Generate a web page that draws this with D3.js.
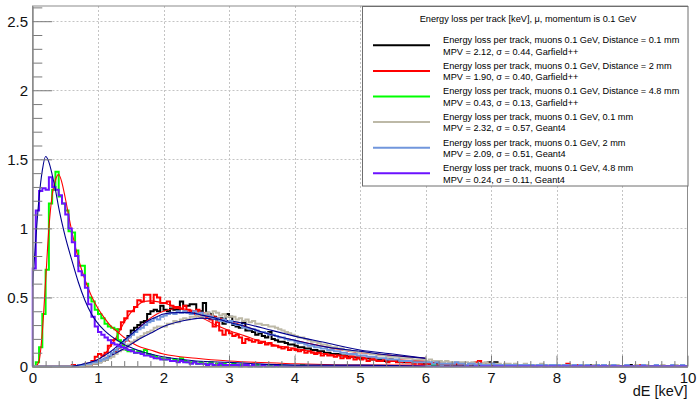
<!DOCTYPE html>
<html>
<head>
<meta charset="utf-8">
<script src="https://cdn.jsdelivr.net/npm/d3@7"></script>
<style>
  body { margin: 0; background: #fff; }
  svg { display: block; }
  text { font-family: "Liberation Sans", Arial, Helvetica, sans-serif; }
</style>
</head>
<body>
<svg id="chart" width="699" height="399"></svg>
<script>
// ---- Histogram binning (0 .. 10 keV, 0.05 keV per bin) ----
const binWidth = 0.05;
const xDomain = [0, 10];
const yDomain = [0, 2.61];
const xMajorTicks = [0, 1, 2, 3, 4, 5, 6, 7, 8, 9, 10];
const yMajorTicks = [0, 0.5, 1, 1.5, 2, 2.5];
const yTickLabels = ["0", "0.5", "1", "1.5", "2", "2.5"];
const xTitle = "dE [keV]";

// ---- Garfield++ histograms (one row of 20 bins per keV) ----
const histGarfield01 = [
  0,0,0,0,0, 0,0,0,0,0, 0,0,0,0,0, 0,0.01,0.01,0.02,0.02,
  0.03,0.04,0.05,0.07,0.09, 0.11,0.14,0.17,0.19,0.22, 0.26,0.28,0.30,0.32,0.33, 0.38,0.40,0.41,0.40,0.44,
  0.41,0.40,0.42,0.41,0.41, 0.47,0.44,0.44,0.45,0.45, 0.40,0.40,0.46,0.39,0.38, 0.36,0.34,0.35,0.31,0.38,
  0.36,0.30,0.29,0.28,0.32, 0.26,0.26,0.25,0.23,0.24, 0.22,0.21,0.25,0.20,0.19, 0.18,0.18,0.17,0.16,0.16,
  0.15,0.14,0.14,0.13,0.13, 0.12,0.12,0.11,0.11,0.10, 0.10,0.09,0.09,0.09,0.08, 0.08,0.07,0.07,0.07,0.06,
  0.06,0.06,0.06,0.05,0.05, 0.05,0.05,0.04,0.04,0.05, 0.04,0.04,0.04,0.03,0.03, 0.03,0.03,0.03,0.03,0.02,
  0.03,0.02,0.02,0.02,0.02, 0.02,0.01,0.02,0.02,0.01, 0.02,0.01,0.01,0.02,0.01, 0.01,0.01,0.02,0.01,0.03,
  0.02,0.03,0.01,0.01,0.01, 0.01,0.01,0.01,0.00,0.01, 0.01,0.01,0.01,0.00,0.01, 0.01,0.00,0.01,0.01,0.00,
  0.01,0.00,0.01,0.00,0.01, 0.00,0.00,0.01,0.00,0.00, 0.01,0.00,0.00,0.00,0.01, 0.00,0.00,0.00,0.00,0.00,
  0.00,0.00,0.01,0.00,0.00, 0,0,0,0,0, 0,0,0,0,0, 0,0,0,0,0
];
const histGarfield2 = [
  0,0,0,0,0, 0,0,0,0,0, 0,0,0.01,0.00,0.01, 0.01,0.02,0.02,0.04,0.07,
  0.09,0.08,0.10,0.15,0.19, 0.20,0.27,0.32,0.35,0.40, 0.40,0.43,0.48,0.47,0.52, 0.52,0.46,0.52,0.50,0.46,
  0.46,0.47,0.44,0.43,0.43, 0.42,0.44,0.41,0.40,0.39, 0.41,0.37,0.37,0.36,0.34, 0.29,0.32,0.26,0.23,0.26,
  0.24,0.22,0.23,0.21,0.17, 0.20,0.19,0.18,0.19,0.17, 0.18,0.16,0.17,0.15,0.15, 0.14,0.13,0.14,0.12,0.13,
  0.12,0.11,0.12,0.10,0.11, 0.10,0.09,0.10,0.08,0.09, 0.08,0.08,0.07,0.08,0.06, 0.07,0.06,0.07,0.05,0.06,
  0.05,0.06,0.04,0.05,0.05, 0.04,0.04,0.05,0.03,0.04, 0.04,0.03,0.03,0.04,0.03, 0.03,0.02,0.03,0.02,0.03,
  0.02,0.02,0.03,0.01,0.02, 0.02,0.01,0.02,0.01,0.02, 0.01,0.02,0.01,0.01,0.02, 0.03,0.04,0.01,0.01,0.02,
  0.01,0.01,0.01,0.00,0.01, 0.01,0.01,0.00,0.01,0.01, 0.00,0.01,0.00,0.01,0.00, 0.01,0.00,0.00,0.01,0.00,
  0.00,0.01,0.00,0.02,0.00, 0.00,0.01,0.00,0.00,0.00, 0.00,0.00,0.01,0.00,0.00, 0,0,0,0,0,
  0,0,0,0,0, 0.01,0,0,0,0, 0,0,0,0,0, 0,0,0,0,0
];
const histGarfield48 = [
  0.00,0.03,0.14,0.38,0.70, 1.18,1.28,1.41,1.23,1.18, 1.13,0.98,0.97,0.84,0.73, 0.73,0.60,0.50,0.47,0.41,
  0.38,0.35,0.31,0.29,0.28, 0.27,0.19,0.15,0.12,0.11, 0.12,0.10,0.11,0.10,0.12, 0.09,0.08,0.07,0.06,0.06,
  0.05,0.06,0.04,0.05,0.04, 0.06,0.04,0.03,0.03,0.03, 0.02,0.03,0.02,0.02,0.03, 0.01,0.02,0.01,0.02,0.01,
  0.01,0.02,0.01,0.01,0.01, 0.01,0.00,0.01,0.01,0.00, 0.01,0.00,0.01,0.00,0.00, 0.01,0.00,0.00,0.00,0.00,
  0.00,0.00,0.01,0.00,0.00, 0,0,0,0,0, 0,0,0,0,0, 0,0,0,0,0,
  0,0,0,0,0, 0,0,0,0,0, 0,0,0,0,0, 0,0,0,0,0,
  0,0,0.01,0,0, 0,0,0,0,0, 0,0,0,0,0, 0,0,0,0,0,
  0,0,0,0,0, 0,0,0,0,0, 0,0,0,0,0, 0,0,0,0,0,
  0,0,0,0,0, 0,0,0,0,0, 0,0,0,0,0, 0,0,0,0,0,
  0,0,0,0,0, 0,0,0,0,0, 0,0,0,0,0, 0,0,0,0,0
];

// ---- Geant4 histograms ----
const histGeant01 = [
  0,0,0,0,0, 0,0,0,0,0, 0,0,0,0,0, 0,0.01,0.01,0.02,0.02,
  0.03,0.04,0.05,0.06,0.07, 0.09,0.11,0.12,0.14,0.16, 0.18,0.19,0.21,0.22,0.24, 0.25,0.26,0.28,0.29,0.29,
  0.29,0.31,0.31,0.33,0.32, 0.34,0.35,0.34,0.36,0.36, 0.37,0.36,0.38,0.39,0.36, 0.40,0.39,0.37,0.38,0.36,
  0.36,0.36,0.34,0.35,0.33, 0.34,0.32,0.33,0.31,0.31, 0.30,0.30,0.29,0.29,0.28, 0.27,0.26,0.25,0.24,0.23,
  0.22,0.21,0.21,0.20,0.19, 0.18,0.18,0.17,0.16,0.16, 0.15,0.14,0.14,0.13,0.13, 0.12,0.12,0.11,0.11,0.10,
  0.11,0.10,0.10,0.09,0.09, 0.08,0.08,0.08,0.07,0.07, 0.07,0.07,0.06,0.06,0.06, 0.06,0.05,0.05,0.05,0.05,
  0.04,0.05,0.04,0.04,0.04, 0.03,0.04,0.03,0.03,0.03, 0.03,0.03,0.03,0.02,0.03, 0.02,0.02,0.02,0.03,0.02,
  0.02,0.02,0.02,0.01,0.02, 0.02,0.01,0.02,0.01,0.01, 0.02,0.01,0.01,0.01,0.01, 0.02,0.01,0.01,0.01,0.01,
  0.01,0.01,0.01,0.01,0.01, 0.01,0.00,0.01,0.01,0.01, 0.00,0.01,0.01,0.00,0.01, 0.00,0.01,0.00,0.01,0.00,
  0.00,0.01,0.00,0.00,0.01, 0.00,0.00,0.01,0.00,0.00, 0.00,0.00,0.01,0.00,0.00, 0.00,0.01,0.00,0.00,0.00
];
const histGeant2 = [
  0,0,0,0,0, 0,0,0,0,0, 0,0,0,0,0.01, 0.01,0.02,0.02,0.03,0.03,
  0.04,0.05,0.06,0.08,0.10, 0.12,0.14,0.17,0.19,0.21, 0.23,0.25,0.27,0.28,0.30, 0.32,0.33,0.35,0.34,0.36,
  0.37,0.38,0.39,0.38,0.40, 0.39,0.40,0.39,0.38,0.40, 0.38,0.39,0.37,0.37,0.36, 0.35,0.35,0.33,0.34,0.32,
  0.33,0.31,0.30,0.30,0.28, 0.28,0.27,0.27,0.26,0.25, 0.25,0.24,0.23,0.23,0.22, 0.21,0.21,0.20,0.19,0.19,
  0.18,0.17,0.17,0.16,0.15, 0.15,0.14,0.14,0.13,0.13, 0.12,0.12,0.11,0.11,0.10, 0.10,0.09,0.09,0.09,0.08,
  0.08,0.08,0.07,0.07,0.07, 0.06,0.06,0.06,0.05,0.05, 0.05,0.05,0.04,0.04,0.04, 0.04,0.03,0.03,0.03,0.03,
  0.03,0.03,0.02,0.03,0.02, 0.02,0.02,0.02,0.02,0.03, 0.02,0.02,0.01,0.02,0.02, 0.01,0.02,0.01,0.01,0.01,
  0.02,0.01,0.01,0.01,0.01, 0.01,0.01,0.01,0.01,0.01, 0.01,0.01,0.01,0.00,0.01, 0.01,0.01,0.00,0.01,0.01,
  0.01,0.00,0.01,0.01,0.00, 0.01,0.00,0.01,0.00,0.01, 0.00,0.00,0.01,0.00,0.01, 0.00,0.00,0.01,0.00,0.00,
  0.00,0.01,0.00,0.00,0.00, 0.00,0.01,0.00,0.00,0.00, 0.01,0.00,0.00,0.00,0.00, 0.01,0.00,0.00,0.01,0.00
];
const histGeant48 = [
  0.71,1.13,1.27,1.29,1.28, 1.37,1.30,1.28,1.24,1.18, 1.10,1.00,0.90,0.80,0.69, 0.66,0.57,0.45,0.36,0.29,
  0.25,0.23,0.21,0.19,0.17, 0.16,0.15,0.14,0.13,0.12, 0.11,0.10,0.10,0.09,0.08, 0.08,0.07,0.06,0.06,0.05,
  0.05,0.05,0.04,0.04,0.03, 0.04,0.03,0.03,0.02,0.03, 0.02,0.02,0.02,0.01,0.02, 0.01,0.01,0.02,0.01,0.01,
  0.01,0.01,0.01,0.00,0.01, 0.01,0.00,0.01,0.00,0.00, 0.01,0.00,0.00,0.00,0.01, 0,0,0,0,0,
  0,0,0,0,0, 0,0,0,0,0, 0,0,0,0,0, 0,0,0,0,0,
  0,0,0,0,0, 0,0,0,0,0, 0,0,0,0,0, 0,0,0,0,0,
  0,0,0,0,0, 0,0,0,0,0, 0,0,0,0,0, 0,0,0,0,0,
  0,0,0,0,0, 0,0,0,0,0, 0,0,0,0,0, 0,0,0,0,0,
  0,0,0,0,0, 0,0,0,0,0, 0,0,0,0,0, 0,0,0,0,0,
  0,0,0,0,0, 0,0,0,0,0, 0,0,0,0,0, 0,0,0,0,0
];

// ---- Fitted curves, sampled as [dE, value] ----
const fitGarfield01 = [[0.7,0.00],[0.9,0.01],[1.0,0.03],[1.1,0.05],[1.2,0.08],[1.3,0.12],[1.4,0.17],[1.5,0.22],[1.6,0.27],[1.7,0.31],[1.8,0.35],[1.9,0.38],[2.0,0.40],[2.2,0.42],[2.4,0.41],[2.6,0.39],[2.8,0.36],[3.0,0.33],[3.25,0.29],[3.5,0.25],[4.0,0.19],[4.5,0.14],[5.0,0.10],[5.5,0.08],[6.0,0.06]];
const fitGarfield2 = [[0.6,0.00],[0.8,0.01],[1.0,0.05],[1.1,0.09],[1.2,0.15],[1.3,0.23],[1.4,0.32],[1.5,0.39],[1.6,0.44],[1.7,0.47],[1.8,0.475],[1.9,0.47],[2.0,0.46],[2.2,0.43],[2.4,0.39],[2.6,0.35],[2.8,0.30],[3.0,0.26],[3.25,0.22],[3.5,0.18],[3.75,0.15],[4.0,0.13],[4.5,0.09],[5.0,0.07],[5.5,0.05],[6.0,0.04]];
const fitGarfield48 = [[0.05,0.00],[0.1,0.04],[0.15,0.25],[0.2,0.62],[0.25,1.00],[0.3,1.24],[0.35,1.35],[0.4,1.39],[0.45,1.33],[0.5,1.22],[0.6,0.98],[0.7,0.78],[0.8,0.63],[0.9,0.51],[1.0,0.42],[1.1,0.35],[1.2,0.29],[1.3,0.25],[1.4,0.21],[1.6,0.15],[1.8,0.12],[2.0,0.09],[2.5,0.06],[3.0,0.04],[4.0,0.02],[5.0,0.01],[6.0,0.01]];
const fitGeant01 = [[0.6,0.00],[0.8,0.02],[1.0,0.04],[1.2,0.08],[1.4,0.13],[1.6,0.19],[1.8,0.24],[2.0,0.29],[2.2,0.32],[2.4,0.34],[2.6,0.35],[2.8,0.34],[3.0,0.33],[3.25,0.31],[3.5,0.28],[4.0,0.22],[4.5,0.17],[5.0,0.12],[5.5,0.09],[6.0,0.06]];
const fitGeant2 = [[0.6,0.00],[0.8,0.02],[1.0,0.05],[1.1,0.08],[1.2,0.11],[1.3,0.15],[1.4,0.19],[1.5,0.23],[1.6,0.27],[1.7,0.31],[1.8,0.34],[1.9,0.36],[2.0,0.38],[2.2,0.39],[2.4,0.39],[2.6,0.37],[2.8,0.35],[3.0,0.32],[3.25,0.29],[3.5,0.25],[4.0,0.19],[4.5,0.14],[5.0,0.11],[5.5,0.08],[6.0,0.06]];
const fitGeant48 = [[0,0.58],[0.05,0.92],[0.1,1.22],[0.15,1.42],[0.2,1.52],[0.25,1.48],[0.3,1.39],[0.35,1.28],[0.4,1.15],[0.45,1.04],[0.5,0.94],[0.6,0.77],[0.7,0.61],[0.8,0.48],[0.9,0.38],[1.0,0.31],[1.1,0.26],[1.2,0.22],[1.4,0.16],[1.6,0.12],[1.8,0.09],[2.0,0.07],[2.5,0.04],[3.0,0.03],[4.0,0.01],[5.0,0.01],[6.0,0.00]];

// ---- Legend texts ----
const legendTitle = "Energy loss per track [keV], \u03bc, momentum is 0.1 GeV";
const legendLine1 = [
  "Energy loss per track, muons 0.1 GeV, Distance = 0.1 mm",
  "Energy loss per track, muons 0.1 GeV, Distance = 2 mm",
  "Energy loss per track, muons 0.1 GeV, Distance = 4.8 mm",
  "Energy loss per track, muons 0.1 GeV, 0.1 mm",
  "Energy loss per track, muons 0.1 GeV, 2 mm",
  "Energy loss per track, muons 0.1 GeV, 4.8 mm"
];
const legendLine2 = [
  "MPV = 2.12, \u03c3 = 0.44, Garfield++",
  "MPV = 1.90, \u03c3 = 0.40, Garfield++",
  "MPV = 0.43, \u03c3 = 0.13, Garfield++",
  "MPV = 2.32, \u03c3 = 0.57, Geant4",
  "MPV = 2.09, \u03c3 = 0.51, Geant4",
  "MPV = 0.24, \u03c3 = 0.11, Geant4"
];

// ---- Drawing ----
const svg = d3.select("#chart");
svg.append("rect").attr("width", 699).attr("height", 399).attr("fill", "#fff");

const frame = { left: 32.5, right: 687.5, top: 6, bottom: 366.5 };
const x = d3.scaleLinear().domain(xDomain).range([frame.left, frame.right]);
const y = d3.scaleLinear().domain(yDomain).range([frame.bottom, frame.top]);

svg.append("defs").append("clipPath").attr("id", "frameClip")
  .append("rect")
  .attr("x", frame.left - 1).attr("y", frame.top)
  .attr("width", frame.right - frame.left + 2).attr("height", frame.bottom - frame.top + 1);

// grid
const grid = svg.append("g").attr("stroke", "#c4c4c4").attr("stroke-width", 1).attr("stroke-dasharray", "2,2");
xMajorTicks.slice(1, -1).forEach(t => {
  grid.append("line").attr("x1", Math.round(x(t)) + 0.5).attr("x2", Math.round(x(t)) + 0.5)
    .attr("y1", frame.top).attr("y2", frame.bottom);
});
yMajorTicks.slice(1).forEach(t => {
  grid.append("line").attr("x1", frame.left).attr("x2", frame.right)
    .attr("y1", Math.round(y(t)) + 0.5).attr("y2", Math.round(y(t)) + 0.5);
});

// frame border
svg.append("rect")
  .attr("x", frame.left).attr("y", frame.top)
  .attr("width", frame.right - frame.left).attr("height", frame.bottom - frame.top)
  .attr("fill", "none").attr("stroke", "#8c8c8c").attr("stroke-width", 1);

// histograms and their fits
const plot = svg.append("g").attr("clip-path", "url(#frameClip)");

const stepLine = d3.line().x(d => x(d[0])).y(d => y(d[1])).curve(d3.curveStepAfter);
const fitLine = d3.line().x(d => x(d[0])).y(d => y(d[1])).curve(d3.curveMonotoneX);

function histPoints(values) {
  const pts = [[0, 0]];
  values.forEach((v, i) => pts.push([i * binWidth, v]));
  pts.push([values.length * binWidth, values[values.length - 1]]);
  pts.push([values.length * binWidth, 0]);
  return pts;
}

const series = [
  { hist: histGarfield01, fit: fitGarfield01, color: "#000000", fitColor: "#ff0000" },
  { hist: histGarfield2,  fit: fitGarfield2,  color: "#ff0000", fitColor: "#ff0000" },
  { hist: histGarfield48, fit: fitGarfield48, color: "#00ff00", fitColor: "#ff0000" },
  { hist: histGeant01,    fit: fitGeant01,    color: "#bdb9a7", fitColor: "#00008f" },
  { hist: histGeant2,     fit: fitGeant2,     color: "#7196dc", fitColor: "#00008f" },
  { hist: histGeant48,    fit: fitGeant48,    color: "#6b12ff", fitColor: "#00008f" }
];

series.forEach(s => {
  plot.append("path")
    .attr("d", stepLine(histPoints(s.hist)))
    .attr("fill", "none").attr("stroke", s.color).attr("stroke-width", 2)
    .attr("stroke-linejoin", "miter");
  plot.append("path")
    .attr("d", fitLine(s.fit))
    .attr("fill", "none").attr("stroke", s.fitColor).attr("stroke-width", 1.1);
});

// axes
const tickColor = "#7a7a7a";
const yMinor = d3.range(0, 2.61, 0.1).map(v => +v.toFixed(1)).filter(v => !yMajorTicks.includes(v));
const xMinor = d3.range(0, 10.01, 0.2).map(v => +v.toFixed(1)).filter(v => !xMajorTicks.includes(v));

const yAxisMinor = svg.append("g").attr("transform", `translate(${frame.left},0)`)
  .call(d3.axisLeft(y).tickValues(yMinor).tickSize(-9.8).tickSizeOuter(0).tickFormat(""));
const yAxisMajor = svg.append("g").attr("transform", `translate(${frame.left},0)`)
  .call(d3.axisLeft(y).tickValues(yMajorTicks).tickSize(-19.6).tickSizeOuter(0).tickPadding(4.5)
    .tickFormat((d, i) => yTickLabels[i]));
const xAxisMinor = svg.append("g").attr("transform", `translate(0,${frame.bottom})`)
  .call(d3.axisBottom(x).tickValues(xMinor).tickSize(-5.4).tickSizeOuter(0).tickFormat(""));
const xAxisMajor = svg.append("g").attr("transform", `translate(0,${frame.bottom})`)
  .call(d3.axisBottom(x).tickValues(xMajorTicks).tickSize(-10.8).tickSizeOuter(0).tickPadding(6)
    .tickFormat(d3.format("d")));

[yAxisMinor, yAxisMajor, xAxisMinor, xAxisMajor].forEach(g => {
  g.selectAll(".domain").attr("stroke", "#8c8c8c");
  g.selectAll(".tick line").attr("stroke", tickColor);
  g.selectAll("text").attr("font-family", "'Liberation Sans', Arial, sans-serif")
    .attr("font-size", 15).attr("fill", "#111");
});

svg.append("text")
  .attr("x", frame.right).attr("y", 396)
  .attr("text-anchor", "end").attr("font-size", 14.5).attr("fill", "#111")
  .text(xTitle);

// legend
const legend = svg.append("g");
legend.append("rect")
  .attr("x", 362.5).attr("y", 6.5).attr("width", 325.5).attr("height", 179.5)
  .attr("fill", "#fff").attr("stroke", "#6e6e6e").attr("stroke-width", 1);
legend.append("text")
  .attr("x", 528).attr("y", 19).attr("dy", "0.35em")
  .attr("text-anchor", "middle").attr("font-size", 9.2).attr("fill", "#000")
  .text(legendTitle);

series.forEach((s, i) => {
  const cy = 45.3 + i * 25.6;
  legend.append("line")
    .attr("x1", 373).attr("x2", 430).attr("y1", cy).attr("y2", cy)
    .attr("stroke", s.color).attr("stroke-width", 2);
  legend.append("text")
    .attr("x", 443).attr("y", cy - 5.3).attr("dy", "0.35em")
    .attr("font-size", 9.2).attr("fill", "#000").text(legendLine1[i]);
  legend.append("text")
    .attr("x", 443).attr("y", cy + 6).attr("dy", "0.35em")
    .attr("font-size", 9.2).attr("fill", "#000").text(legendLine2[i]);
});
</script>
</body>
</html>
